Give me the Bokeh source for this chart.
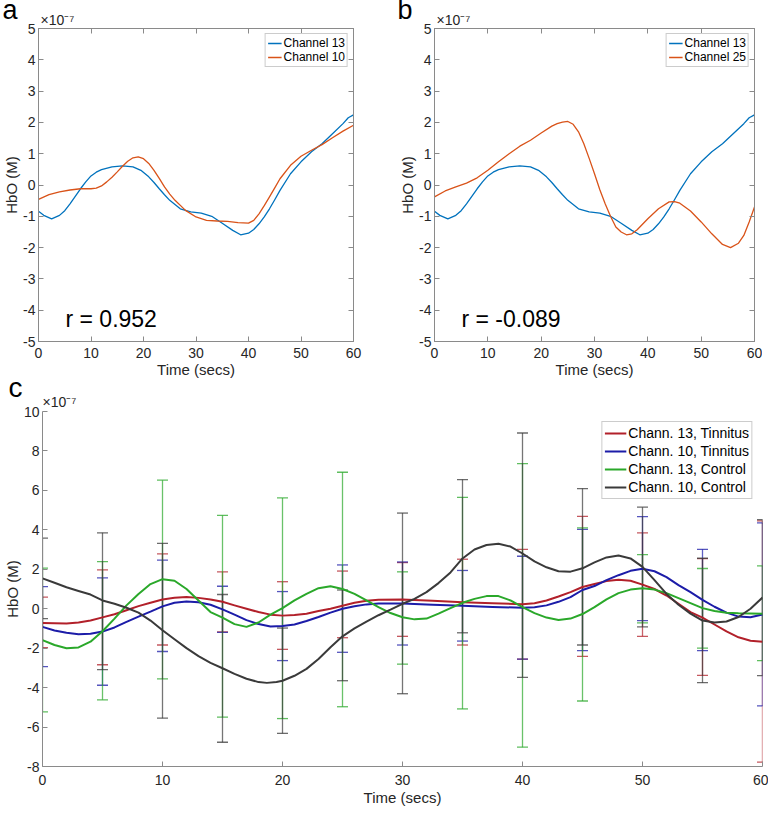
from bokeh.plotting import figure
from bokeh.models import (LinearAxis, FixedTicker, Legend, LegendItem, Range1d,
                          Title, Label)
from bokeh.layouts import column, row
from bokeh.embed import file_html
from bokeh.resources import INLINE

FONT = "Liberation Sans"
AX = "#8a8a8a"
TXT = "#262626"

# ---------------- Panel a / b data (units of 1e-7 M) ----------------
t_ch13 = [0, 1, 2.5, 4, 5, 6, 7, 8, 9, 10, 11, 12, 14, 16, 18, 19.5, 21, 22, 23, 24,
          25, 27, 29, 31, 33, 35, 37, 38.5, 40, 41, 42, 43, 44, 45, 46, 48, 50, 52,
          54, 56, 58, 59, 60]
ch13 = [-0.84, -0.97, -1.08, -0.97, -0.82, -0.60, -0.36, -0.12, 0.10, 0.29, 0.41,
        0.49, 0.58, 0.61, 0.58, 0.47, 0.26, 0.08, -0.12, -0.31, -0.49, -0.76, -0.86,
        -0.90, -1.00, -1.22, -1.45, -1.59, -1.54, -1.42, -1.24, -1.02, -0.76, -0.47,
        -0.17, 0.36, 0.74, 1.06, 1.32, 1.64, 1.96, 2.15, 2.24]

t_ch10 = [0, 2, 4, 6, 8, 10, 11, 12, 13, 14, 15, 16, 17, 18, 19, 20, 21, 22, 23, 24,
          25, 26, 28, 30, 32, 34, 36, 38, 40, 41, 42, 43, 44, 45, 46, 48, 50, 52, 54,
          56, 58, 60]
ch10 = [-0.46, -0.31, -0.22, -0.16, -0.12, -0.12, -0.10, -0.03, 0.10, 0.25, 0.42,
        0.60, 0.76, 0.87, 0.90, 0.84, 0.69, 0.47, 0.21, -0.06, -0.29, -0.49, -0.81,
        -1.02, -1.13, -1.15, -1.16, -1.20, -1.22, -1.13, -0.92, -0.66, -0.38, -0.09,
        0.20, 0.63, 0.92, 1.11, 1.29, 1.51, 1.72, 1.91]

t_ch25 = [0, 2, 4, 6, 8, 10, 12, 14, 16, 18, 20, 22, 23, 24, 25, 26, 27, 28, 29, 30,
          31, 32, 33, 34, 35, 36, 37, 38, 40, 42, 44, 45, 46, 48, 50, 52, 54, 55.5,
          57, 58, 59, 60]
ch25 = [-0.38, -0.19, -0.06, 0.06, 0.23, 0.47, 0.74, 1.00, 1.24, 1.43, 1.66, 1.88,
        1.96, 2.01, 2.03, 1.94, 1.70, 1.32, 0.85, 0.36, -0.15, -0.60, -1.00, -1.34,
        -1.50, -1.59, -1.56, -1.43, -1.08, -0.76, -0.54, -0.53, -0.58, -0.83, -1.18,
        -1.56, -1.90, -2.00, -1.86, -1.61, -1.18, -0.70]

r_a = "r = 0.952"
r_b = "r = -0.089"

# ---------------- Panel c data (units of 1e-7 M) ----------------
t_red = [0, 1, 2, 3, 4, 5, 6, 7, 8, 9, 10, 11, 12, 13, 14, 15, 16, 17, 18, 19, 20, 21,
         22, 23, 24, 25, 26, 27, 28, 30, 32.5, 35, 37.5, 40, 41, 42, 43, 44, 45, 46,
         47, 48, 49, 50, 51, 52, 53, 54, 55, 56, 57, 58, 59, 60]
red = [-0.72, -0.74, -0.75, -0.70, -0.60, -0.44, -0.28, -0.08, 0.13, 0.30, 0.47, 0.56,
       0.59, 0.55, 0.47, 0.35, 0.17, 0.00, -0.17, -0.30, -0.35, -0.32, -0.25, -0.12,
       0.00, 0.15, 0.30, 0.40, 0.45, 0.47, 0.40, 0.33, 0.28, 0.23, 0.28, 0.42, 0.62,
       0.84, 1.10, 1.25, 1.40, 1.47, 1.42, 1.22, 1.00, 0.67, 0.25, -0.17, -0.45, -0.80,
       -1.15, -1.45, -1.62, -1.67]

t_blue = [0, 1, 2, 3, 4, 5, 6, 7, 8, 9, 10, 11, 12, 13, 14, 15, 16, 17, 18, 19, 20,
          21, 22, 23, 24, 25, 26, 27, 28, 30, 32.5, 35, 37.5, 40, 41, 42, 43, 44, 45,
          46, 47, 48, 49, 50, 51, 52, 53, 54, 55, 56, 57, 58, 59, 60]
blue = [-0.92, -1.10, -1.22, -1.30, -1.27, -1.16, -0.95, -0.67, -0.40, -0.15, 0.12,
        0.30, 0.37, 0.33, 0.20, -0.03, -0.30, -0.58, -0.78, -0.90, -0.88, -0.80, -0.62,
        -0.42, -0.20, 0.00, 0.12, 0.22, 0.26, 0.27, 0.20, 0.15, 0.09, 0.05, 0.08, 0.17,
        0.35, 0.59, 0.95, 1.15, 1.45, 1.70, 1.92, 2.03, 1.90, 1.60, 1.20, 0.84, 0.45,
        0.10, -0.20, -0.40, -0.43, -0.29]

t_green = [0, 1, 2, 3, 4, 5, 6, 7, 8, 9, 10, 11, 12, 13, 14, 15, 16, 17, 18, 19, 20,
           21, 22, 23, 24, 25, 26, 27, 28, 29, 30, 31, 32, 33, 34, 35, 36, 37, 38, 39,
           40, 41, 42, 43, 44, 45, 46, 47, 48, 49, 50, 51, 52, 53, 54, 55, 56, 57, 58, 60]
green = [-1.59, -1.84, -2.00, -1.96, -1.67, -1.14, -0.50, 0.17, 0.75, 1.25, 1.50, 1.42,
         1.00, 0.42, -0.17, -0.45, -0.78, -0.92, -0.70, -0.30, 0.03, 0.42, 0.75, 1.04,
         1.14, 1.00, 0.75, 0.42, 0.08, -0.22, -0.43, -0.54, -0.50, -0.25, 0.03, 0.30,
         0.50, 0.64, 0.64, 0.42, 0.08, -0.22, -0.45, -0.57, -0.50, -0.27, 0.08, 0.47,
         0.79, 0.97, 1.04, 0.97, 0.79, 0.54, 0.28, 0.03, -0.12, -0.20, -0.23, -0.25]

t_black = [0, 1, 2, 3, 4, 5, 6, 7, 8, 9, 10, 11, 12, 13, 14, 15, 16, 17, 18, 18.7,
           19.5, 20, 21, 22, 23, 24, 25, 26, 27, 28, 29, 30, 31, 32, 33, 34, 35, 36,
           37, 38, 39, 40, 41, 42, 43, 44, 45, 46, 47, 48, 49, 50, 51, 52, 53, 54, 55,
           56, 57, 58, 59, 60]
black = [1.54, 1.32, 1.09, 0.90, 0.72, 0.42, 0.25, 0.05, -0.20, -0.60, -1.09, -1.55,
         -2.00, -2.40, -2.75, -3.02, -3.30, -3.55, -3.72, -3.76, -3.72, -3.65, -3.40,
         -3.05, -2.55, -1.95, -1.40, -1.00, -0.65, -0.33, -0.05, 0.25, 0.50, 0.84, 1.30,
         1.84, 2.55, 3.00, 3.23, 3.29, 3.15, 2.80, 2.40, 2.10, 1.90, 1.88, 2.05, 2.35,
         2.60, 2.70, 2.55, 2.12, 1.45, 0.75, 0.20, -0.25, -0.60, -0.70, -0.65, -0.42,
         0.00, 0.57]

t_err = [0, 5, 10, 15, 20, 25, 30, 35, 40, 45, 50, 55, 60]
red_lo = [-1.97, -2.84, -1.84, -1.17, -2.06, -1.47, -1.40, -1.84, -2.56, -2.42, -1.40, -3.38, -7.78]
red_hi = [0.59, 1.97, 2.78, 1.87, 1.37, 1.91, 2.34, 2.51, 3.01, 4.68, 3.85, 2.54, 4.45]
blue_lo = [-2.94, -3.88, -2.17, -1.20, -2.63, -2.21, -1.84, -1.64, -2.56, -2.12, -0.60, -2.12, -4.93]
blue_hi = [1.12, 1.56, 2.46, 1.14, 0.87, 2.22, 2.37, 1.94, 2.66, 4.02, 4.67, 3.01, 4.35]
green_lo = [-5.23, -4.62, -3.56, -5.50, -5.57, -4.97, -2.81, -5.08, -7.02, -4.68, -0.72, -2.00, -2.63]
green_hi = [2.06, 2.39, 6.52, 4.73, 5.62, 6.92, 1.87, 5.65, 7.36, 4.10, 2.74, 2.04, 2.17]
black_lo = [-0.50, -3.09, -5.55, -6.77, -6.32, -3.65, -4.31, -1.22, -3.48, -1.84, -0.92, -3.75, -3.39]
black_hi = [3.58, 3.85, 3.31, 0.72, -0.98, 0.95, 4.85, 6.55, 8.91, 6.09, 5.15, 2.56, 4.52]

labels_c = ["Chann. 13, Tinnitus", "Chann. 10, Tinnitus",
            "Chann. 13, Control", "Chann. 10, Control"]

x_ticks = [0, 10, 20, 30, 40, 50, 60]
y_ticks_ab = [-5, -4, -3, -2, -1, 0, 1, 2, 3, 4, 5]
y_ticks_c = [-8, -6, -4, -2, 0, 2, 4, 6, 8, 10]
exp_text = "\u00d710\u207b\u2077"

C_BLUE = "#0072BD"
C_ORANGE = "#D95319"
C_RED = "#b2202a"
C_DBLUE = "#1c1ca8"
C_GREEN = "#2aa82a"
C_BLACK = "#3a3a3a"


def style_axis(ax, ticks, show_labels=True, label=None, standoff=6, lstandoff=0):
    ax.ticker = FixedTicker(ticks=ticks)
    ax.axis_line_color = AX
    ax.major_tick_line_color = AX
    ax.major_tick_in = 5
    ax.major_tick_out = 0
    ax.minor_tick_line_color = None
    ax.major_label_text_font = FONT
    if show_labels:
        ax.major_label_overrides = {v: str(v) for v in ticks}
        ax.major_label_text_color = TXT
        ax.major_label_text_font_size = "14px"
        ax.major_label_standoff = standoff
    else:
        ax.major_label_text_color = None
        ax.major_label_text_font_size = "1px"
        ax.major_label_standoff = 0
    if label:
        ax.axis_label = label
        ax.axis_label_text_font = FONT
        ax.axis_label_text_font_size = "15px"
        ax.axis_label_text_font_style = "normal"
        ax.axis_label_text_color = TXT
        ax.axis_label_standoff = lstandoff


def make_fig(fw, fh, left, right, top, bottom, yr, yticks, box, xs, xls):
    p = figure(frame_width=fw, frame_height=fh, min_border_left=left,
               min_border_right=right, min_border_top=top, min_border_bottom=bottom,
               x_range=Range1d(0, 60), y_range=Range1d(*yr),
               output_backend="svg", toolbar_location=None)
    p.xgrid.visible = False
    p.ygrid.visible = False
    p.background_fill_color = "white"
    p.border_fill_color = "white"
    style_axis(p.xaxis[0], x_ticks, True, "Time (secs)", xs, xls)
    style_axis(p.yaxis[0], yticks, True, "HbO (M)", 3, 0)
    if box:
        p.outline_line_color = AX
        top_ax = LinearAxis()
        style_axis(top_ax, x_ticks, False)
        right_ax = LinearAxis()
        style_axis(right_ax, yticks, False)
        p.add_layout(top_ax, "above")
        p.add_layout(right_ax, "right")
    else:
        p.outline_line_color = None
    return p


def head(p, letter, loff, lsize, lstand, eoff, estand):
    # exponent marker closest to the frame, panel letter above it
    p.add_layout(Title(text=exp_text, align="left", offset=eoff, standoff=estand,
                       text_font=FONT, text_font_size="14px",
                       text_font_style="normal", text_color=TXT), "above")
    p.add_layout(Title(text=letter, align="left", offset=loff, standoff=lstand,
                       text_font=FONT, text_font_size=lsize,
                       text_font_style="normal", text_color="black"), "above")


def rlabel(p, x, y, text):
    p.add_layout(Label(x=x, y=y, text=text, text_font=FONT, text_font_size="23px",
                       text_color="black", text_baseline="alphabetic",
                       text_align="left"))


def legend(p, items, fsize, lh, gw, margin):
    lg = Legend(items=items, location="top_right", label_text_font=FONT,
                label_text_font_size=fsize, label_text_color="black",
                border_line_color="#9a9a9a", border_line_width=1,
                background_fill_color="white", background_fill_alpha=1.0,
                padding=2, spacing=0, margin=margin, glyph_width=gw,
                glyph_height=lh, label_height=lh, label_standoff=2)
    p.add_layout(lg)


# ---------------- Panel a ----------------
pa = make_fig(315, 313, 35, 32, 28, 41, (-5, 5), y_ticks_ab, True, 6, 0)
ra1 = pa.line(t_ch13, ch13, line_color=C_BLUE, line_width=1.3, line_join="round")
ra2 = pa.line(t_ch10, ch10, line_color=C_ORANGE, line_width=1.3, line_join="round")
legend(pa, [LegendItem(label="Channel 13", renderers=[ra1]),
            LegendItem(label="Channel 10", renderers=[ra2])], "12px", 14, 14, 5)
head(pa, "a", -36, "27px", -32, 2, 2)
rlabel(pa, 5.14, -4.27, r_a)

# ---------------- Panel b ----------------
pb = make_fig(320, 313, 49, 8, 28, 41, (-5, 5), y_ticks_ab, True, 6, 0)
rb1 = pb.line(t_ch13, ch13, line_color=C_BLUE, line_width=1.3, line_join="round")
rb2 = pb.line(t_ch25, ch25, line_color=C_ORANGE, line_width=1.3, line_join="round")
legend(pb, [LegendItem(label="Channel 13", renderers=[rb1]),
            LegendItem(label="Channel 25", renderers=[rb2])], "12px", 14, 14, 5)
head(pb, "b", -37, "27px", -32, 2, 2)
rlabel(pb, 5.06, -4.27, r_b)

# ---------------- Panel c ----------------
pc = make_fig(720, 355, 35, 6, 29, 42, (-8, 10), y_ticks_c, False, 8, 1)

series = [
    (t_red, red, red_lo, red_hi, C_RED),
    (t_blue, blue, blue_lo, blue_hi, C_DBLUE),
    (t_green, green, green_lo, green_hi, C_GREEN),
    (t_black, black, black_lo, black_hi, C_BLACK),
]
for ts, ys, lo, hi, col in series:
    pc.segment(x0=t_err, x1=t_err, y0=lo, y1=hi, line_color=col, line_width=1.3,
               line_alpha=0.7)
    pc.scatter(t_err, lo, marker="dash", size=11, line_color=col, line_width=1.3,
               line_alpha=0.75)
    pc.scatter(t_err, hi, marker="dash", size=11, line_color=col, line_width=1.3,
               line_alpha=0.75)

line_rs = []
for ts, ys, lo, hi, col in series:
    line_rs.append(pc.line(ts, ys, line_color=col, line_width=2, line_join="round"))

legend(pc, [LegendItem(label=lb, renderers=[r]) for lb, r in zip(labels_c, line_rs)],
       "14px", 18, 22, 10)
head(pc, "c", -34, "28px", -26, 0, 4)

layout = column(row(pa, pb), pc)
open("out.html", "w").write(file_html(layout, INLINE))
